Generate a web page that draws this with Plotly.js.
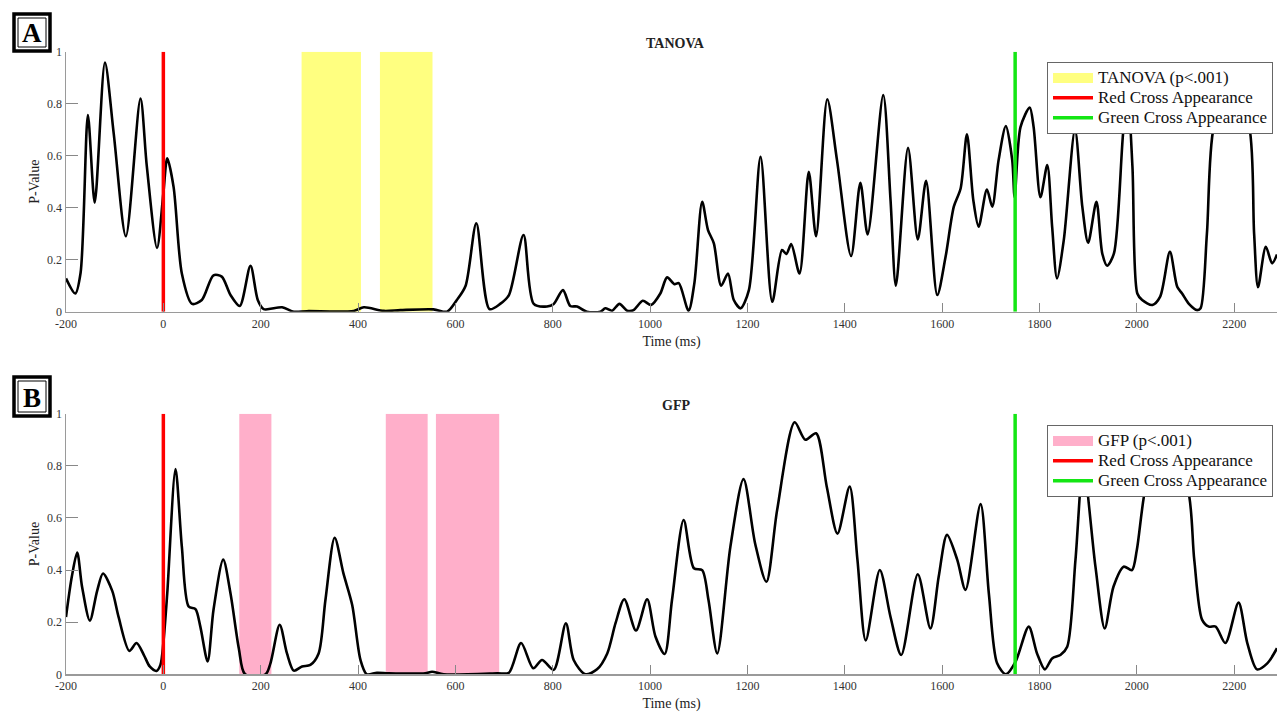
<!DOCTYPE html>
<html>
<head>
<meta charset="utf-8">
<script src="https://cdn.plot.ly/plotly-3.0.1.min.js"></script>
<style>html,body{margin:0;padding:0;background:#fff;}#chart{width:1277px;height:712px;}</style>
</head>
<body>
<div id="chart"></div>
<script>
// ---------------- data ----------------
const tanovaTime = [-200,-181,-170,-155,-141,-120,-102,-77,-47,-34,-13,0,8,21,38,59,79,103,120,138,157,179,194,206,244,268,295,391,412,453,487,555,583,603,621,643,670,692,710,740,761,788,802,821,836,850,870,898,908,922,937,953,966,985,1002,1021,1035,1050,1059,1079,1091,1107,1119,1131,1146,1160,1172,1186,1203,1227,1251,1271,1280,1290,1307,1326,1341,1364,1384,1413,1432,1447,1479,1494,1505,1530,1550,1567,1590,1607,1624,1638,1651,1664,1675,1692,1703,1716,1731,1744,1749,1761,1780,1788,1802,1816,1826,1836,1850,1873,1888,1900,1917,1929,1939,1953,1973,1982,1991,2001,2011,2032,2048,2068,2083,2093,2107,2124,2131,2144,2158,2195,2231,2241,2249,2265,2278,2288];
const tanovaP = [0.128,0.07,0.15,0.756,0.42,0.958,0.686,0.29,0.82,0.56,0.245,0.455,0.59,0.48,0.147,0.03,0.045,0.14,0.135,0.064,0.022,0.177,0.045,0.01,0.017,0,0.002,0.003,0.017,0.003,0.006,0.009,0,0.045,0.10,0.34,0.01,0.03,0.064,0.295,0.03,0.02,0.03,0.083,0.022,0.02,0,0,0.013,0.004,0.03,0.004,0.006,0.042,0.026,0.07,0.132,0.106,0.11,0.004,0.11,0.423,0.314,0.263,0.10,0.147,0.045,0.013,0.083,0.596,0.038,0.237,0.222,0.26,0.147,0.538,0.29,0.817,0.583,0.214,0.496,0.297,0.833,0.43,0.10,0.63,0.278,0.503,0.064,0.21,0.404,0.474,0.682,0.43,0.327,0.47,0.404,0.583,0.714,0.583,0.44,0.71,0.785,0.71,0.44,0.564,0.327,0.128,0.276,0.70,0.404,0.265,0.423,0.224,0.177,0.224,0.71,0.80,0.558,0.07,0.045,0.026,0.058,0.23,0.096,0.07,0.03,0.006,0.013,0.30,0.71,0.88,0.71,0.30,0.094,0.25,0.186,0.22];

const gfpTime = [-200,-188,-177,-167,-151,-136,-124,-105,-92,-70,-55,-40,-28,-14,-6,0,8,25,38,52,66,76,91,103,123,138,155,168,210,220,239,254,268,285,302,319,333,352,370,388,405,418,439,463,538,552,576,686,710,735,760,778,802,827,843,867,891,912,929,947,971,994,1011,1030,1045,1069,1090,1107,1120,1138,1165,1192,1216,1239,1261,1297,1319,1341,1363,1385,1410,1426,1443,1472,1494,1516,1550,1576,1593,1610,1631,1648,1679,1696,1713,1731,1751,1778,1795,1811,1826,1843,1857,1874,1890,1915,1934,1952,1973,1990,2000,2018,2030,2045,2075,2104,2118,2134,2148,2162,2182,2209,2227,2247,2268,2288];
const gfpP = [0.22,0.375,0.467,0.336,0.206,0.32,0.387,0.32,0.22,0.09,0.12,0.074,0.03,0.013,0.036,0.12,0.31,0.788,0.49,0.26,0.25,0.183,0.049,0.247,0.44,0.31,0.10,0,0,0.042,0.19,0.08,0.014,0.03,0.036,0.08,0.285,0.524,0.387,0.266,0.055,0,0.006,0.004,0.004,0.01,0,0.004,0.006,0.12,0.023,0.055,0.017,0.196,0.055,0,0.019,0.08,0.196,0.288,0.168,0.288,0.145,0.078,0.285,0.592,0.407,0.40,0.285,0.08,0.49,0.749,0.50,0.355,0.63,0.967,0.90,0.925,0.72,0.54,0.72,0.44,0.13,0.40,0.22,0.074,0.384,0.176,0.375,0.535,0.44,0.324,0.653,0.31,0.042,0,0.049,0.183,0.08,0.019,0.061,0.074,0.106,0.44,0.80,0.413,0.176,0.336,0.413,0.40,0.477,0.714,0.76,0.70,0.79,0.714,0.44,0.21,0.183,0.183,0.12,0.275,0.12,0.019,0.042,0.10];

const tanovaSigStart = [284, 445];
const tanovaSigEnd   = [406, 553];
const gfpSigStart    = [156, 457, 560];
const gfpSigEnd      = [222, 543, 690];

const redCrossTime = 0;
const greenCrossTime = 1750;

const xTickVals   = [-200,0,200,400,600,800,1000,1200,1400,1600,1800,2000,2200];
const xTickLabels = ['-200','0','200','400','600','800','1000','1200','1400','1600','1800','2000','2200'];
const yTickVals   = [0,0.2,0.4,0.6,0.8,1];
const yTickLabels = ['0','0.2','0.4','0.6','0.8','1'];

const panelTitles = ['TANOVA', 'GFP'];
const sigNames = ['TANOVA (p<.001)', 'GFP (p<.001)'];
const eventNames = ['Red Cross Appearance', 'Green Cross Appearance'];
const panelLetters = ['A', 'B'];

// ---------------- helpers ----------------
const W = 1277, H = 712, ML = 66;
const FONT = 'Liberation Serif, Times New Roman, serif';
const px = v => (v - ML) / (W - ML);
const py = v => 1 - v / H;
const legText = s => '<span style="font-size:17px">' + s.replace('<', '&lt;') + '</span>';

function bands(starts, ends) {
  const x = [], y = [];
  starts.forEach((s, i) => {
    x.push(s, s, ends[i], ends[i], s, null);
    y.push(0, 1, 1, 0, 0, null);
  });
  return {x, y};
}

const YELLOW = '#ffff80', PINK = '#ffafca', RED = '#ff0000', GREEN = '#14e614';

function panelTraces(idx, time, p, starts, ends, color) {
  const xa = idx === 0 ? 'x' : 'x2';
  const ya = idx === 0 ? 'y' : 'y2';
  const lg = idx === 0 ? 'legend' : 'legend2';
  const b = bands(starts, ends);
  return [
    {x: b.x, y: b.y, xaxis: xa, yaxis: ya, type: 'scatter', mode: 'lines', fill: 'toself',
     fillcolor: color, line: {width: 0, color: color}, showlegend: false, hoverinfo: 'skip'},
    {x: [null], y: [null], xaxis: xa, yaxis: ya, type: 'scatter', mode: 'lines', name: legText(sigNames[idx]),
     line: {width: 14, color: color}, legend: lg, legendrank: 1},
    {x: time, y: p, xaxis: xa, yaxis: ya, type: 'scatter', mode: 'lines',
     line: {color: '#000', width: 2.6, shape: 'spline', smoothing: 0.8}, showlegend: false},
    {x: [redCrossTime, redCrossTime], y: [0, 1], xaxis: xa, yaxis: ya, type: 'scatter', mode: 'lines',
     name: legText(eventNames[0]), line: {color: RED, width: 3.5}, legend: lg, legendrank: 2},
    {x: [greenCrossTime, greenCrossTime], y: [0, 1], xaxis: xa, yaxis: ya, type: 'scatter', mode: 'lines',
     name: legText(eventNames[1]), line: {color: GREEN, width: 3.5}, legend: lg, legendrank: 3}
  ];
}

const data = [].concat(
  panelTraces(0, tanovaTime, tanovaP, tanovaSigStart, tanovaSigEnd, YELLOW),
  panelTraces(1, gfpTime, gfpP, gfpSigStart, gfpSigEnd, PINK)
);

function xAxis(anchor) {
  return {
    anchor: anchor, domain: [0, 1], range: [-200, 2288],
    tickmode: 'array', tickvals: xTickVals, ticktext: xTickLabels,
    ticks: 'inside', ticklen: 9, tickwidth: 1, tickcolor: '#888',
    showline: true, linecolor: '#9a9a9a', linewidth: 1.5,
    showgrid: false, zeroline: false,
    tickfont: {family: FONT, size: 12, color: '#333'},
    title: {text: 'Time (ms)', font: {family: FONT, size: 14, color: '#222'}, standoff: 6}
  };
}
function yAxis(anchor, dom) {
  return {
    anchor: anchor, domain: dom, range: [0, 1],
    tickmode: 'array', tickvals: yTickVals, ticktext: yTickLabels,
    ticks: 'inside', ticklen: 12, tickwidth: 1, tickcolor: '#888',
    showline: true, linecolor: '#9a9a9a', linewidth: 1.5,
    showgrid: false, zeroline: false,
    tickfont: {family: FONT, size: 12, color: '#333'},
    title: {text: 'P-Value', font: {family: FONT, size: 14, color: '#222'}, standoff: 4}
  };
}

const legendStyle = (ytop) => ({
  x: px(1047), y: py(ytop), xanchor: 'left', yanchor: 'top',
  bgcolor: '#fff', bordercolor: '#666', borderwidth: 1,
  font: {family: FONT, size: 13, color: '#111'},
  itemwidth: 40, tracegroupgap: 0
});

const shapes = [];
const annotations = [];
[[12, 52, 12, 53], [12, 52, 375, 418]].forEach((b, i) => {
  shapes.push({type: 'rect', xref: 'paper', yref: 'paper', x0: px(b[0] + 2), x1: px(b[1] - 2), y0: py(b[2] + 2), y1: py(b[3] - 2),
    line: {color: '#000', width: 3.5}, fillcolor: 'rgba(0,0,0,0)'});
  shapes.push({type: 'rect', xref: 'paper', yref: 'paper', x0: px(b[0] + 6), x1: px(b[1] - 6), y0: py(b[2] + 6), y1: py(b[3] - 6),
    line: {color: '#000', width: 1}, fillcolor: 'rgba(0,0,0,0)'});
  annotations.push({xref: 'paper', yref: 'paper', x: px((b[0] + b[1]) / 2), y: py((b[2] + b[3]) / 2 + 1),
    text: '<b>' + panelLetters[i] + '</b>', showarrow: false, xanchor: 'center', yanchor: 'middle',
    font: {family: FONT, size: 27, color: '#000'}});
});
annotations.push({xref: 'paper', yref: 'paper', x: px(675), y: py(43), text: '<b>' + panelTitles[0] + '</b>',
  showarrow: false, xanchor: 'center', yanchor: 'middle', font: {family: FONT, size: 14, color: '#222'}});
annotations.push({xref: 'paper', yref: 'paper', x: px(676), y: py(405), text: '<b>' + panelTitles[1] + '</b>',
  showarrow: false, xanchor: 'center', yanchor: 'middle', font: {family: FONT, size: 14, color: '#222'}});

const layout = {
  width: W, height: H,
  margin: {l: ML, r: 0, t: 0, b: 0},
  paper_bgcolor: '#fff', plot_bgcolor: '#fff',
  font: {family: FONT},
  xaxis: xAxis('y'),
  yaxis: yAxis('x', [py(311.7), py(51.7)]),
  xaxis2: xAxis('y2'),
  yaxis2: yAxis('x2', [py(674.3), py(413.7)]),
  legend: legendStyle(62),
  legend2: legendStyle(425),
  shapes: shapes,
  annotations: annotations,
  showlegend: true
};

Plotly.newPlot('chart', data, layout, {displayModeBar: false, staticPlot: true});
</script>
</body>
</html>
